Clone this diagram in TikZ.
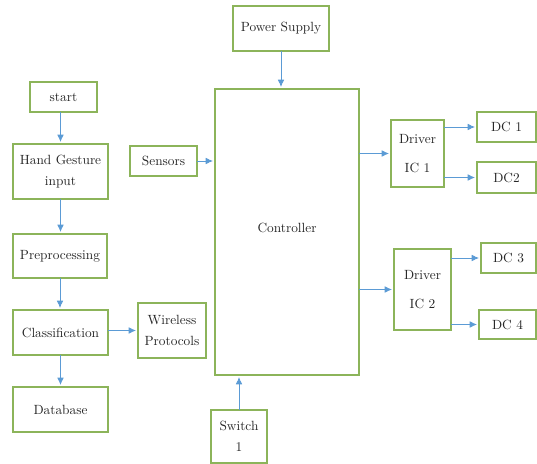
\documentclass[tikz,border=0pt]{standalone}
\usepackage{fontspec}
\usetikzlibrary{arrows.meta}
\definecolor{boxgreen}{RGB}{140,180,90}
\definecolor{arrowblue}{RGB}{91,155,213}
\tikzset{%
    block/.style={draw=boxgreen,line width=1pt,inner sep=0pt,outer sep=0pt,shape=rectangle,align=center,text=black!85,font=\fontsize{10}{16}\selectfont},
    driver/.style={block,font=\fontsize{10}{21.5}\selectfont},
    link/.style={-{Latex[length=5.5pt,width=5pt]},draw=arrowblue,line width=0.6pt,shorten >=1.5pt},
}
\begin{document}
\begin{tikzpicture}
	
	\def \k {0.75pt}
	
	\useasboundingbox (0,0) rectangle (537*\k,-464*\k);
	
	%left column
	\node[block,minimum width=67*\k,minimum height=30*\k] (start) at (63.5*\k,-97*\k) {start};
	\node[block,minimum width=95*\k,minimum height=55*\k] (hand) at (60.5*\k,-171.5*\k) {Hand Gesture\\input};
	\node[block,minimum width=94*\k,minimum height=44*\k] (prep) at (60*\k,-256*\k) {Preprocessing};
	\node[block,minimum width=95*\k,minimum height=45*\k] (classif) at (60.5*\k,-332.5*\k) {Classification};
	\node[block,minimum width=95*\k,minimum height=45*\k] (database) at (60.5*\k,-409.5*\k) {Database};
	\node[block,minimum width=68*\k,minimum height=55*\k] (wireless) at (172*\k,-330.5*\k) {Wireless\\Protocols};
	%%%%%%%%%%%%%%%%%%%
	
	%controller and inputs
	\node[block,minimum width=67*\k,minimum height=30*\k] (sensors) at (163.5*\k,-161*\k) {Sensors};
	\node[block,minimum width=96*\k,minimum height=45*\k] (power) at (281*\k,-28.5*\k) {Power Supply};
	\node[block,minimum width=144*\k,minimum height=286*\k] (ctrl) at (287*\k,-232*\k) {};
	\node[text=black!85,font=\fontsize{10}{16}\selectfont] (ctrltext) at (287*\k,-228*\k) {Controller};
	\node[block,minimum width=56*\k,minimum height=53*\k] (switch) at (239*\k,-436.5*\k) {Switch\\1};
	%%%%%%%%%%%%%%%%%%%
	
	%drivers and motors
	\node[driver,minimum width=53*\k,minimum height=67*\k] (drvone) at (417.5*\k,-153.5*\k) {Driver\\IC 1};
	\node[driver,minimum width=57*\k,minimum height=81*\k] (drvtwo) at (422.5*\k,-289.5*\k) {Driver\\IC 2};
	\node[block,minimum width=59*\k,minimum height=30*\k] (dcone) at (506.5*\k,-127*\k) {DC 1};
	\node[block,minimum width=59*\k,minimum height=31*\k] (dctwo) at (506.5*\k,-177.5*\k) {DC2};
	\node[block,minimum width=55*\k,minimum height=30*\k] (dcthree) at (508.5*\k,-258*\k) {DC 3};
	\node[block,minimum width=57*\k,minimum height=29*\k] (dcfour) at (507.5*\k,-324.5*\k) {DC 4};
	%%%%%%%%%%%%%%%%%%%
	
	\draw[link] (hand.north |- start.south) -- (hand.north);
	\draw[link] (hand.south) -- (prep.north -| hand.south);
	\draw[link] (prep.south) -- (prep.south |- classif.north);
	\draw[link] (classif.south) -- (database.north);
	\draw[link] (classif.east |- wireless.west) -- (wireless.west);
	
	\draw[link] (sensors.east) -- (sensors.east -| ctrl.west);
	\draw[link] (power.south) -- (power.south |- ctrl.north);
	\draw[link] (switch.north) -- (switch.north |- ctrl.south);
	
	\draw[link] (ctrl.east |- drvone.west) -- (drvone.west);
	\draw[link] (ctrl.east |- drvtwo.west) -- (drvtwo.west);
	\draw[link] (drvone.east |- dcone.west) -- (dcone.west);
	\draw[link] (drvone.east |- dctwo.west) -- (dctwo.west);
	\draw[link] (drvtwo.east |- dcthree.west) -- (dcthree.west);
	\draw[link] (drvtwo.east |- dcfour.west) -- (dcfour.west);
	
\end{tikzpicture}
\end{document}
